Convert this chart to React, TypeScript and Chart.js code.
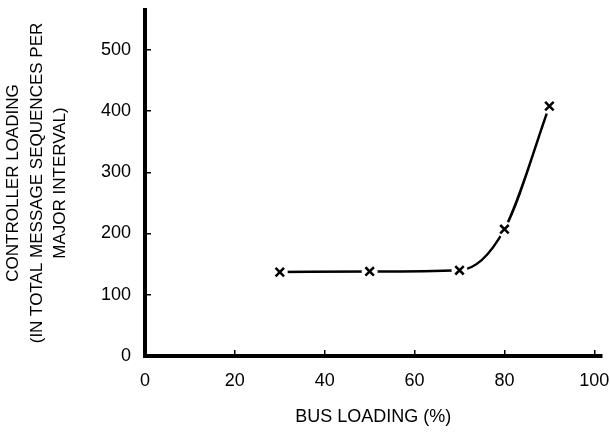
import React, { useEffect, useRef } from "react";
import { Chart, registerables } from "chart.js";

Chart.register(...registerables);

const busLoading = [30, 50, 70, 80, 90];
const controllerLoading = [137, 138, 140, 207, 408];
const xTickValues = [0, 20, 40, 60, 80, 100];
const yTickValues = [0, 100, 200, 300, 400, 500];
const xTitle = "BUS LOADING (%)";
const yTitle = ["CONTROLLER LOADING", "(IN TOTAL MESSAGE SEQUENCES PER", "MAJOR INTERVAL)"];

const FONT = "'Liberation Sans', Arial, sans-serif";

export default function App() {
  const ref = useRef<HTMLCanvasElement | null>(null);

  useEffect(() => {
    const canvas = ref.current;
    if (!canvas) return;
    const pts = busLoading.map((x, i) => ({ x, y: controllerLoading[i] }));
    const chart = new Chart(canvas, {
      type: "line",
      data: {
        datasets: [
          {
            data: pts,
            borderColor: "#000",
            borderWidth: 2.5,
            pointRadius: 0,
            cubicInterpolationMode: "monotone",
            fill: false,
            order: 3,
          },
          {
            data: pts,
            showLine: false,
            pointStyle: "circle",
            pointRadius: 8,
            pointBorderWidth: 0,
            pointBackgroundColor: "#fff",
            pointBorderColor: "#fff",
            order: 2,
          },
          {
            data: pts,
            showLine: false,
            pointStyle: "crossRot",
            pointRadius: 6,
            pointBorderWidth: 2.5,
            pointBorderColor: "#000",
            pointBackgroundColor: "#000",
            order: 1,
          },
        ],
      },
      options: {
        responsive: false,
        animation: false,
        events: [],
        layout: { padding: { top: 10, right: 0, left: 0, bottom: 0 } },
        plugins: { legend: { display: false }, tooltip: { enabled: false } },
        scales: {
          x: {
            type: "linear",
            min: 0,
            max: 101.6,
            afterBuildTicks: (s: any) => {
              s.ticks = xTickValues.map((v) => ({ value: v }));
            },
            afterFit: (s: any) => {
              s.height = 77;
              s.paddingLeft = 0;
              s.paddingRight = 0;
            },
            border: { display: true, color: "#000", width: 4 },
            grid: {
              drawOnChartArea: false,
              drawTicks: true,
              tickLength: -6,
              color: "#000",
              lineWidth: 1.5,
            },
            ticks: {
              color: "#000",
              padding: 20,
              maxRotation: 0,
              font: { family: FONT, size: 18 },
            },
            title: {
              display: true,
              text: xTitle,
              color: "#000",
              font: { family: FONT, size: 18 },
              padding: { top: 0, bottom: 5 },
            },
          },
          y: {
            type: "linear",
            min: 0,
            max: 565,
            afterBuildTicks: (s: any) => {
              s.ticks = yTickValues.map((v) => ({ value: v }));
            },
            afterFit: (s: any) => {
              s.width = 145;
              s.paddingTop = 0;
              s.paddingBottom = 0;
            },
            border: { display: true, color: "#000", width: 4 },
            grid: {
              drawOnChartArea: false,
              drawTicks: true,
              tickLength: -6,
              color: "#000",
              lineWidth: 1.5,
            },
            ticks: {
              color: "#000",
              padding: 20,
              font: { family: FONT, size: 18 },
            },
            title: {
              display: true,
              text: yTitle,
              color: "#000",
              font: { family: FONT, size: 17, lineHeight: 1.38 },
              padding: { top: 2, bottom: 0 },
            },
          },
        },
      },
    });
    return () => chart.destroy();
  }, []);

  return (
    <canvas
      ref={ref}
      width={610}
      height={433}
      style={{ position: "absolute", left: 0, top: 0, width: 610, height: 433, display: "block", background: "#fff" }}
    />
  );
}
